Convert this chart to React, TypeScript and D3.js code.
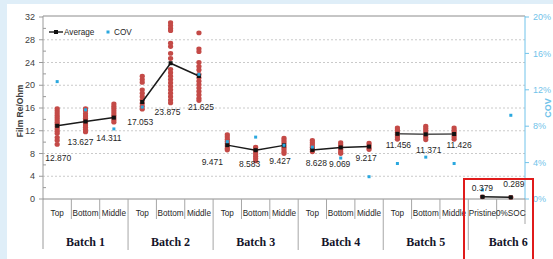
import * as d3 from 'd3'

// ---- data ----
const batches = ['Batch 1', 'Batch 2', 'Batch 3', 'Batch 4', 'Batch 5', 'Batch 6']
const subLabels = [
  ['Top', 'Bottom', 'Middle'],
  ['Top', 'Bottom', 'Middle'],
  ['Top', 'Bottom', 'Middle'],
  ['Top', 'Bottom', 'Middle'],
  ['Top', 'Bottom', 'Middle'],
  ['Pristine', '0%SOC'],
]
const averages = [
  [12.87, 13.627, 14.311],
  [17.053, 23.875, 21.625],
  [9.471, 8.583, 9.427],
  [8.628, 9.069, 9.217],
  [11.456, 11.371, 11.426],
  [0.379, 0.289],
]
const averageLabels = [
  ['12.870', '13.627', '14.311'],
  ['17.053', '23.875', '21.625'],
  ['9.471', '8.583', '9.427'],
  ['8.628', '9.069', '9.217'],
  ['11.456', '11.371', '11.426'],
  ['0.379', '0.289'],
]
// COV in %, right axis
const cov: (number | null)[][] = [
  [12.9, 9.8, 7.7],
  [10.1, null, 13.7],
  [6.3, 6.8, 5.9],
  [5.7, 4.5, 2.45],
  [3.9, 4.6, 3.9],
  [1.0, 9.2],
]
// individual Film Re readings
const readings = [
  [
    [15.9, 15.5, 15.1, 14.7, 14.3, 13.9, 13.5, 13.1, 12.7, 12.3, 11.9, 11.5, 10.8, 10.3, 9.6],
    [15.9, 15.5, 15.0, 14.6, 14.2, 13.8, 13.4, 13.0, 12.6, 12.2, 11.8],
    [16.7, 16.3, 15.9, 15.5, 15.1, 14.7, 14.3, 13.9, 13.5],
  ],
  [
    [21.6, 21.0, 20.5, 19.2, 18.6, 18.0, 17.4, 16.8, 16.3, 15.8],
    [31.0, 30.5, 30.0, 29.6, 27.4, 26.8, 25.6, 24.7, 22.8, 22.2, 21.6, 21.0, 20.4, 19.8, 19.2, 18.6, 18.0, 17.4, 16.9],
    [29.2, 26.4, 25.9, 24.0, 23.3, 22.7, 21.9, 21.3, 20.7, 20.1, 19.5, 18.9, 18.3, 17.7, 17.3],
  ],
  [
    [11.3, 10.9, 10.5, 10.1, 9.7, 9.3, 8.9, 8.6],
    [9.1, 8.7, 8.3, 7.9, 7.5, 7.1, 6.7],
    [10.7, 10.3, 9.9, 9.5, 9.1, 8.7, 8.3, 8.0],
  ],
  [
    [10.3, 9.9, 9.5, 9.1, 8.7, 8.3],
    [9.9, 9.5, 9.1, 8.7, 8.3, 8.0],
    [9.8, 9.4, 9.0, 8.7],
  ],
  [
    [12.5, 12.1, 11.7, 11.3, 10.9, 10.5],
    [12.8, 12.4, 12.0, 11.6, 11.2, 10.8, 10.4],
    [12.5, 12.1, 11.7, 11.3, 10.9, 10.5],
  ],
  [[0.38], [0.29]],
]
const leftTicks = [0, 4, 8, 12, 16, 20, 24, 28, 32]
const rightTicks = [0, 4, 8, 12, 16, 20]

// data label placement (px offsets from the point, as moved by hand in the original)
const labelOffsets = [
  [[1, 32], [-5, 21], [-5, 20]],
  [[-2, 20.5], [-3, 49], [2, 31]],
  [[-15, 17], [-6, 14], [-4, 16]],
  [[4, 13], [-1, 17], [-3, 11]],
  [[1, 11], [3, 16], [5, 11]],
  [[0, -9], [3, -13]],
]

const W = 553
const H = 259
const RED = '#c44a47'
const CYAN = '#2aa8df'
const CYAN_AXIS = '#71c3ea'
const FONT = '"Liberation Sans", Arial, sans-serif'

export default function App() {
  const keys: string[] = []
  batches.forEach((b, i) => subLabels[i].forEach((s) => keys.push(`${b}|${s}`)))

  const x = d3.scaleBand<string>().domain(keys).range([43, 525]).padding(0)
  const y = d3.scaleLinear().domain([0, 32]).range([199, 17])
  const yR = d3.scaleLinear().domain([0, 20]).range([199, 17])
  const cx = (b: number, s: number) => x(`${batches[b]}|${subLabels[b][s]}`)! + x.bandwidth() / 2

  const line = d3.line<[number, number]>().x((d) => d[0]).y((d) => d[1])
  const minor = d3.range(2, 32, 4)

  // batch boundaries
  let idx = 0
  const batchStarts = batches.map((_, i) => {
    const s = idx
    idx += subLabels[i].length
    return s
  })

  return (
    <svg width={W} height={H} style={{ position: 'fixed', left: 0, top: 0 }} fontFamily={FONT}>
      <rect width={W} height={H} fill="#dfeef8" />
      <rect x={7} y={4} width={W - 7} height={H - 4} fill="#ffffff" />

      {/* gridlines */}
      {leftTicks.filter((t) => t > 0 && t < 32).map((t) => (
        <line key={t} x1={43} x2={525} y1={y(t)} y2={y(t)} stroke="#c4c4c4" strokeWidth={0.9} strokeDasharray="2,2" />
      ))}
      <line x1={43} x2={525} y1={16} y2={16} stroke="#8c8c8c" strokeWidth={1} />

      {/* left axis */}
      <line x1={43} x2={43} y1={16} y2={249} stroke="#9a9a9a" strokeWidth={1} />
      {leftTicks.map((t) => (
        <g key={t}>
          <line x1={39} x2={43} y1={y(t)} y2={y(t)} stroke="#9a9a9a" />
          <text x={35} y={y(t)} dy="0.35em" textAnchor="end" fontSize={9} fill="#404040">{t}</text>
        </g>
      ))}
      {minor.map((t) => (
        <line key={t} x1={43} x2={46} y1={y(t)} y2={y(t)} stroke="#9a9a9a" />
      ))}
      <text transform={`translate(23,111) rotate(-90)`} textAnchor="middle" fontSize={8.5} fontWeight="bold" fill="#404040">Film Re/Ohm</text>

      {/* right axis */}
      <line x1={525} x2={525} y1={16} y2={199} stroke={CYAN_AXIS} strokeWidth={1} />
      {rightTicks.map((t) => (
        <g key={t}>
          <line x1={525} x2={529} y1={yR(t)} y2={yR(t)} stroke={CYAN_AXIS} />
          <text x={533} y={yR(t)} dy="0.35em" fontSize={9} fill={CYAN_AXIS}>{t}%</text>
        </g>
      ))}
      <text transform={`translate(548,108) rotate(-90)`} textAnchor="middle" dy="0.35em" fontSize={9} fontWeight="bold" fill={CYAN_AXIS}>COV</text>

      {/* category axis */}
      <line x1={43} x2={525} y1={199} y2={199} stroke="#8c8c8c" strokeWidth={1} />
      {keys.map((k, i) => {
        const x0 = x(k)!
        const isBatchStart = batchStarts.includes(i)
        return i === 0 ? null : (
          <line key={k} x1={x0} x2={x0} y1={199} y2={isBatchStart ? 250 : 219} stroke="#a6a6a6" strokeWidth={1} />
        )
      })}
      <line x1={525} x2={525} y1={199} y2={224} stroke="#a6a6a6" strokeWidth={1} />
      {batches.map((b, bi) =>
        subLabels[bi].map((s, si) => (
          <text key={`${b}${s}`} x={cx(bi, si)} y={213} dy="0.35em" textAnchor="middle" fontSize={8.2} fill="#262626">{s}</text>
        ))
      )}
      {batches.map((b, bi) => {
        const first = x(`${b}|${subLabels[bi][0]}`)!
        const last = x(`${b}|${subLabels[bi][subLabels[bi].length - 1]}`)! + x.bandwidth()
        const mid = bi === batches.length - 1 ? first + 40 : (first + last) / 2
        return (
          <text key={b} x={mid} y={242} dy="0.35em" textAnchor="middle" fontSize={12} fontWeight="bold" fontFamily='"Liberation Serif", "Times New Roman", serif' fill="#14142a">{b}</text>
        )
      })}

      {/* individual readings */}
      {readings.map((batch, bi) =>
        batch.map((vals, si) =>
          vals.map((v, vi) => (
            <ellipse key={`${bi}-${si}-${vi}`} cx={cx(bi, si)} cy={y(v)} rx={2.6} ry={2.4} fill={RED} />
          ))
        )
      )}

      {/* average lines */}
      {averages.map((vals, bi) => (
        <g key={bi}>
          <path d={line(vals.map((v, si) => [cx(bi, si), y(v)]))!} fill="none" stroke={bi === 4 ? '#505050' : '#1a1a1a'} strokeWidth={1.5} />
          {vals.map((v, si) => (
            <rect key={si} x={cx(bi, si) - 2} y={y(v) - 2} width={4} height={4} fill="#111" />
          ))}
        </g>
      ))}

      {/* COV points */}
      {cov.map((vals, bi) =>
        vals.map((v, si) => v == null ? null : (
          <rect key={`${bi}-${si}`} x={cx(bi, si) - 1.5} y={yR(v) - 1.5} width={3} height={3} fill={CYAN} />
        ))
      )}

      {/* data labels */}
      {averages.map((vals, bi) =>
        vals.map((v, si) => (
          <text key={`${bi}-${si}`} x={cx(bi, si) + labelOffsets[bi][si][0]} y={y(v) + labelOffsets[bi][si][1]} dy="0.35em" textAnchor="middle" fontSize={8.5} fill="#262626">
            {averageLabels[bi][si]}
          </text>
        ))
      )}

      {/* legend */}
      <line x1={49} x2={63} y1={32} y2={32} stroke="#1a1a1a" strokeWidth={1.4} />
      <rect x={54} y={30} width={4} height={4} fill="#111" />
      <text x={64} y={32} dy="0.35em" fontSize={8.2} fill="#262626">Average</text>
      <rect x={106.5} y={30.5} width={3} height={3} fill={CYAN} />
      <text x={114} y={32} dy="0.35em" fontSize={8.2} fill="#262626">COV</text>

      {/* highlight box */}
      <rect x={464} y={179} width={69} height={H} fill="none" stroke="#e01b1b" strokeWidth={2} />
    </svg>
  )
}
